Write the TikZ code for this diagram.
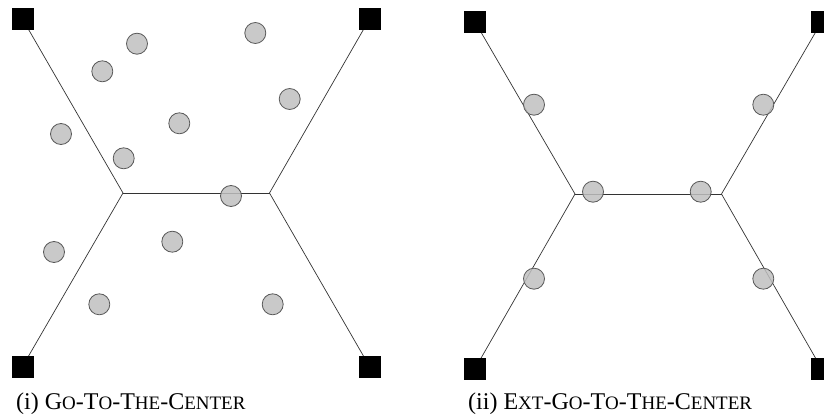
\documentclass[tikz,border=0pt]{standalone}
\usepackage{fontspec}
\setmainfont{Liberation Serif}
\newcommand\fakesc{\fontsize{19}{22}\selectfont}
\begin{document}
\begin{tikzpicture}[x=1pt,y=-1pt,
  term/.style={draw=black,fill=black,minimum size=21pt,inner sep=0pt,rectangle},
  robot/.style={circle,draw=black!65,fill=black!25,line width=0.8pt,minimum size=21pt,inner sep=0pt,fill opacity=0.85},
  wire/.style={draw=black!80,line width=0.7pt},
  caption/.style={anchor=base west,inner sep=0pt,font=\fontsize{24}{27}\selectfont}]
\useasboundingbox (0,0) rectangle (824,417);
% ---------- left panel ----------
\coordinate (LA) at (22.5,19);
\coordinate (LB) at (369.5,19);
\coordinate (LC) at (22.5,366.5);
\coordinate (LD) at (369.5,366.5);
\coordinate (LJ1) at (123,193);
\coordinate (LJ2) at (269.5,193);
\draw[wire] (LA) -- (LJ1) -- (LC);
\draw[wire] (LB) -- (LJ2) -- (LD);
\draw[wire] (LJ1) -- (LJ2);
\node[term] (la) at (LA) {};
\node[term] (lb) at (LB) {};
\node[term] (lc) at (LC) {};
\node[term] (ld) at (LD) {};
\node[robot] (l1) at (137,43.7) {};
\node[robot] (l2) at (102.3,71.3) {};
\node[robot] (l3) at (255.3,33) {};
\node[robot] (l4) at (289.7,99) {};
\node[robot] (l5) at (179.3,123.3) {};
\node[robot] (l6) at (61,134) {};
\node[robot] (l7) at (123.7,158.3) {};
\node[robot] (l8) at (231,196) {};
\node[robot] (l9) at (54,252) {};
\node[robot] (l10) at (172.3,241.7) {};
\node[robot] (l11) at (99.3,304.3) {};
\node[robot] (l12) at (272.7,304.3) {};
\node[caption] (capl) at (16,409) {(i) G{\fakesc O}-T{\fakesc O}-T{\fakesc HE}-C{\fakesc ENTER}};
% ---------- right panel ----------
\coordinate (RA) at (474.8,21.5);
\coordinate (RB) at (821.8,21.5);
\coordinate (RC) at (474.8,369);
\coordinate (RD) at (821.8,369);
\coordinate (RJ1) at (575,194);
\coordinate (RJ2) at (721.5,194);
\draw[wire] (RA) -- (RJ1) -- (RC);
\draw[wire] (RB) -- (RJ2) -- (RD);
\draw[wire] (RJ1) -- (RJ2);
\node[term] (ra) at (RA) {};
\node[term] (rb) at (RB) {};
\node[term] (rc) at (RC) {};
\node[term] (rd) at (RD) {};
\node[robot] (r1) at (534,104.7) {};
\node[robot] (r2) at (763.3,104.7) {};
\node[robot] (r3) at (593,191.7) {};
\node[robot] (r4) at (700.7,191.7) {};
\node[robot] (r5) at (534,278.7) {};
\node[robot] (r6) at (763.3,278.7) {};
\node[caption] (capr) at (468,409) {(ii) E{\fakesc XT}-G{\fakesc O}-T{\fakesc O}-T{\fakesc HE}-C{\fakesc ENTER}};
\end{tikzpicture}
\end{document}
